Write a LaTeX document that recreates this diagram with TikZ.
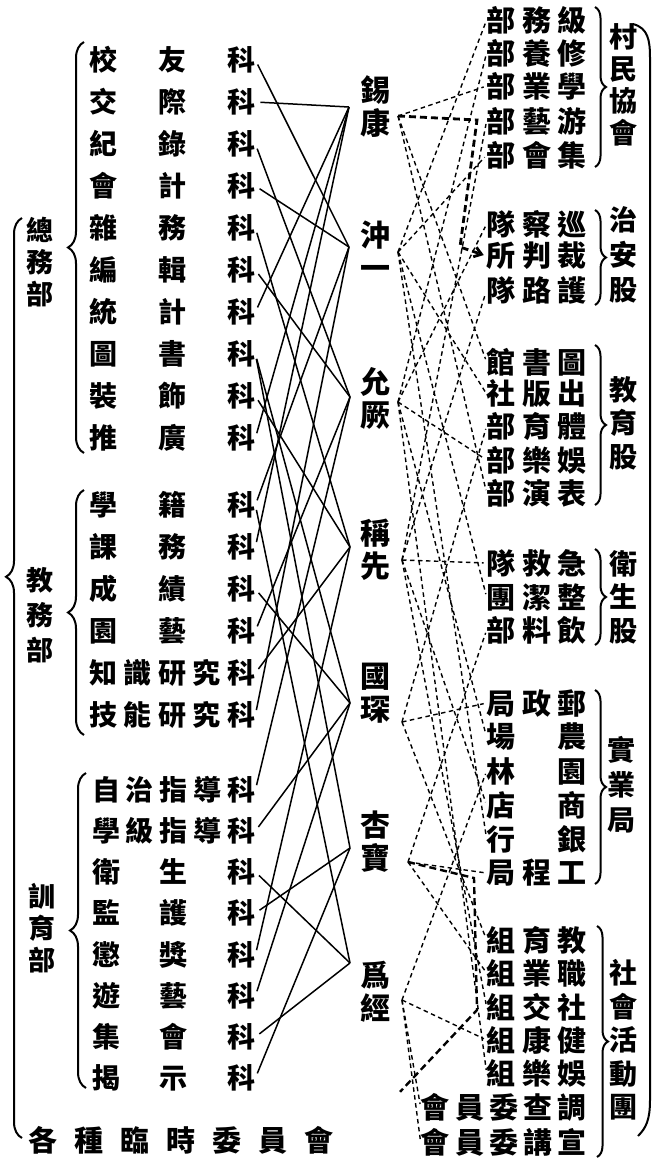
\documentclass[tikz,border=0pt]{standalone}
\usepackage{fontspec}
\newfontfamily\cjk{Noto Sans CJK TC}
\usetikzlibrary{decorations.pathreplacing,arrows.meta}
\newcommand\rowbox[2]{\hbox to #1{#2}}
\begin{document}
\begin{tikzpicture}[x=1pt,y=-1pt,
  lrow/.style={anchor=west,inner sep=0pt,font=\cjk\bfseries\fontsize{28}{28}\selectfont},
  rrow/.style={anchor=east,inner sep=0pt,font=\cjk\bfseries\fontsize{29}{29}\selectfont},
  vlab/.style={align=center,inner sep=0pt},
  pname/.style={align=center,inner sep=0pt,font=\cjk\bfseries\fontsize{30}{33}\selectfont},
  slink/.style={line width=1.5pt,shorten <=5pt},
  dlink/.style={line width=1.4pt,dash pattern=on 4.5pt off 3.5pt,shorten >=3pt},
  lbrace/.style={decorate,decoration={brace,amplitude=16pt},line width=2pt},
  rbrace/.style={decorate,decoration={brace,amplitude=11pt},line width=2pt},
]
\useasboundingbox (0,0) rectangle (655,1165);

% ---------- left: department rows ----------
\node[lrow] (L1)  at (89,60)   {\rowbox{166pt}{校\hfill 友\hfill 科}};
\node[lrow] (L2)  at (89,102)  {\rowbox{166pt}{交\hfill 際\hfill 科}};
\node[lrow] (L3)  at (89,144)  {\rowbox{166pt}{紀\hfill 錄\hfill 科}};
\node[lrow] (L4)  at (89,186)  {\rowbox{166pt}{會\hfill 計\hfill 科}};
\node[lrow] (L5)  at (89,228)  {\rowbox{166pt}{雜\hfill 務\hfill 科}};
\node[lrow] (L6)  at (89,270)  {\rowbox{166pt}{編\hfill 輯\hfill 科}};
\node[lrow] (L7)  at (89,312)  {\rowbox{166pt}{統\hfill 計\hfill 科}};
\node[lrow] (L8)  at (89,354)  {\rowbox{166pt}{圖\hfill 書\hfill 科}};
\node[lrow] (L9)  at (89,396)  {\rowbox{166pt}{裝\hfill 飾\hfill 科}};
\node[lrow] (L10) at (89,438)  {\rowbox{166pt}{推\hfill 廣\hfill 科}};
\node[lrow] (L11) at (89,505)  {\rowbox{166pt}{學\hfill 籍\hfill 科}};
\node[lrow] (L12) at (89,547)  {\rowbox{166pt}{課\hfill 務\hfill 科}};
\node[lrow] (L13) at (89,589)  {\rowbox{166pt}{成\hfill 績\hfill 科}};
\node[lrow] (L14) at (89,631)  {\rowbox{166pt}{園\hfill 藝\hfill 科}};
\node[lrow] (L15) at (89,673)  {\rowbox{166pt}{知\hfill 識\hfill 研\hfill 究\hfill 科}};
\node[lrow] (L16) at (89,715)  {\rowbox{166pt}{技\hfill 能\hfill 研\hfill 究\hfill 科}};
\node[lrow] (L17) at (92,790)  {\rowbox{163pt}{自\hfill 治\hfill 指\hfill 導\hfill 科}};
\node[lrow] (L18) at (92,831)  {\rowbox{163pt}{學\hfill 級\hfill 指\hfill 導\hfill 科}};
\node[lrow] (L19) at (92,872)  {\rowbox{163pt}{衛\hfill 生\hfill 科}};
\node[lrow] (L20) at (92,913)  {\rowbox{163pt}{監\hfill 護\hfill 科}};
\node[lrow] (L21) at (92,955)  {\rowbox{163pt}{懲\hfill 獎\hfill 科}};
\node[lrow] (L22) at (92,996)  {\rowbox{163pt}{遊\hfill 藝\hfill 科}};
\node[lrow] (L23) at (92,1037) {\rowbox{163pt}{集\hfill 會\hfill 科}};
\node[lrow] (L24) at (92,1078) {\rowbox{163pt}{揭\hfill 示\hfill 科}};

% ---------- left: department labels ----------
\node[vlab,font=\cjk\bfseries\fontsize{27}{32}\selectfont] (G1) at (40,262) {總\\務\\部};
\node[vlab,font=\cjk\bfseries\fontsize{27}{35}\selectfont] (G2) at (40,615) {教\\務\\部};
\node[vlab,font=\cjk\bfseries\fontsize{27}{32}\selectfont] (G3) at (42,928) {訓\\育\\部};
\node[lrow,font=\cjk\bfseries\fontsize{29}{29}\selectfont] (G4) at (28,1140) {\rowbox{305pt}{各\hfill 種\hfill 臨\hfill 時\hfill 委\hfill 員\hfill 會}};

% ---------- left braces ----------
\draw[lbrace] (84,453) -- (84,42);
\draw[lbrace] (84,735) -- (84,490);
\draw[lbrace] (86,1088) -- (86,773);
\draw[lbrace,decoration={aspect=0.61}] (22,1138) -- (22,218);

% ---------- middle: names ----------
\node[pname] (a) at (375,107) {錫\\康};
\node[pname] (b) at (375,250) {沖\\一};
\node[pname] (c) at (375,398) {允\\厥};
\node[pname] (d) at (375,550) {稱\\先};
\node[pname] (e) at (375,693) {國\\琛};
\node[pname] (f) at (375,842) {杏\\寶};
\node[pname] (g) at (375,992) {爲\\經};
\coordinate (a-in) at (349,107);  \coordinate (a-out) at (398,116);
\coordinate (b-in) at (349,247);  \coordinate (b-out) at (398,252);
\coordinate (c-in) at (350,397);  \coordinate (c-out) at (398,402);
\coordinate (d-in) at (350,547);  \coordinate (d-out) at (402,560);
\coordinate (e-in) at (350,703);  \coordinate (e-out) at (402,722);
\coordinate (f-in) at (350,848);  \coordinate (f-out) at (408,862);
\coordinate (g-in) at (350,963);  \coordinate (g-out) at (402,1000);

% ---------- right: rows ----------
\node[rrow] (R1)  at (587,20)   {\rowbox{100pt}{部\hfill 務\hfill 級}};
\node[rrow] (R2)  at (587,53)   {\rowbox{100pt}{部\hfill 養\hfill 修}};
\node[rrow] (R3)  at (587,86)   {\rowbox{100pt}{部\hfill 業\hfill 學}};
\node[rrow] (R4)  at (587,121)  {\rowbox{100pt}{部\hfill 藝\hfill 游}};
\node[rrow] (R5)  at (587,155)  {\rowbox{100pt}{部\hfill 會\hfill 集}};
\node[rrow] (R6)  at (587,224)  {\rowbox{100pt}{隊\hfill 察\hfill 巡}};
\node[rrow] (R7)  at (587,256)  {\rowbox{100pt}{所\hfill 判\hfill 裁}};
\node[rrow] (R8)  at (587,290)  {\rowbox{100pt}{隊\hfill 路\hfill 護}};
\node[rrow] (R9)  at (587,362)  {\rowbox{100pt}{館\hfill 書\hfill 圖}};
\node[rrow] (R10) at (587,394)  {\rowbox{100pt}{社\hfill 版\hfill 出}};
\node[rrow] (R11) at (587,426)  {\rowbox{100pt}{部\hfill 育\hfill 體}};
\node[rrow] (R12) at (587,460)  {\rowbox{100pt}{部\hfill 樂\hfill 娛}};
\node[rrow] (R13) at (587,493)  {\rowbox{100pt}{部\hfill 演\hfill 表}};
\node[rrow] (R14) at (587,563)  {\rowbox{100pt}{隊\hfill 救\hfill 急}};
\node[rrow] (R15) at (587,597)  {\rowbox{100pt}{團\hfill 潔\hfill 整}};
\node[rrow] (R16) at (587,630)  {\rowbox{100pt}{部\hfill 料\hfill 飲}};
\node[rrow] (R17) at (587,703)  {\rowbox{100pt}{局\hfill 政\hfill 郵}};
\node[rrow] (R18) at (587,737)  {\rowbox{100pt}{場\hfill 農}};
\node[rrow] (R19) at (587,771)  {\rowbox{100pt}{林\hfill 園}};
\node[rrow] (R20) at (587,805)  {\rowbox{100pt}{店\hfill 商}};
\node[rrow] (R21) at (587,839)  {\rowbox{100pt}{行\hfill 銀}};
\node[rrow] (R22) at (587,873)  {\rowbox{100pt}{局\hfill 程\hfill 工}};
\node[rrow] (R23) at (587,940)  {\rowbox{100pt}{組\hfill 育\hfill 教}};
\node[rrow] (R24) at (587,973)  {\rowbox{100pt}{組\hfill 業\hfill 職}};
\node[rrow] (R25) at (587,1007) {\rowbox{100pt}{組\hfill 交\hfill 社}};
\node[rrow] (R26) at (587,1040) {\rowbox{100pt}{組\hfill 康\hfill 健}};
\node[rrow] (R27) at (587,1073) {\rowbox{100pt}{組\hfill 樂\hfill 娛}};
\node[rrow] (R28) at (587,1107) {\rowbox{166pt}{會\hfill 員\hfill 委\hfill 查\hfill 調}};
\node[rrow] (R29) at (587,1142) {\rowbox{166pt}{會\hfill 員\hfill 委\hfill 講\hfill 宣}};

% ---------- right: group labels ----------
\node[vlab,font=\cjk\bfseries\fontsize{28}{32}\selectfont] (H1) at (623,85)   {村\\民\\協\\會};
\node[vlab,font=\cjk\bfseries\fontsize{28}{35}\selectfont] (H2) at (623,255)  {治\\安\\股};
\node[vlab,font=\cjk\bfseries\fontsize{28}{33.5}\selectfont] (H3) at (623,423) {教\\育\\股};
\node[vlab,font=\cjk\bfseries\fontsize{28}{33.5}\selectfont] (H4) at (623,597) {衛\\生\\股};
\node[vlab,font=\cjk\bfseries\fontsize{28}{35}\selectfont] (H5) at (621,785)  {實\\業\\局};
\node[vlab,font=\cjk\bfseries\fontsize{28}{33.5}\selectfont] (H6) at (623,1040) {社\\會\\活\\動\\團};

% ---------- right braces ----------
\draw[rbrace] (595,7) -- (595,167);
\draw[rbrace] (595,210) -- (595,305);
\draw[rbrace] (595,345) -- (595,505);
\draw[rbrace] (595,549) -- (595,645);
\draw[rbrace] (595,690) -- (595,884);
\draw[rbrace] (597,926) -- (597,1157);
\draw[line width=2pt] (633,24) .. controls (648,28) and (650,40) .. (650,58) -- (650,1100) .. controls (650,1120) and (646,1128) .. (638,1136);

% ---------- solid connectors: sections to persons ----------
\foreach \s/\t in {L1/b-in,L2/a-in,L3/c-in,L4/b-in,L5/d-in,L6/c-in,L7/a-in,L8/e-in,L8/f-in,L9/d-in,L10/a-in,
  L11/b-in,L11/g-in,L12/a-in,L13/e-in,L14/c-in,L15/d-in,L16/b-in,
  L17/c-in,L18/e-in,L19/g-in,L20/f-in,L21/d-in,L22/e-in,L23/g-in,L24/f-in}
  \draw[slink] (\s.east) -- (\t);

% ---------- dashed connectors: persons to village bodies ----------
\foreach \s/\t in {b-out/R1,c-out/R2,a-out/R3,d-out/R4,b-out/R5,c-out/R6,d-out/R8,a-out/R9,b-out/R10,
  e-out/R11,c-out/R12,a-out/R13,d-out/R14,b-out/R15,f-out/R16,e-out/R17,c-out/R18,g-out/R19,d-out/R20,
  b-out/R21,f-out/R22,e-out/R23,f-out/R24,d-out/R25,g-out/R26,c-out/R27,g-out/R28,g-out/R29}
  \draw[dlink] (\s) -- (\t.west);

% bold bent dashed connectors
\coordinate (k1) at (477,120);
\coordinate (k2) at (460,247);
\draw[dlink,line width=2.8pt,dash pattern=on 7pt off 4pt,-{Straight Barb[length=7pt,width=10pt]}] (a-out) -- (k1) -- (k2) -- (R7.west);
\coordinate (k3) at (474,878);
\coordinate (k4) at (477,1010);
\coordinate (k5) at (398,1094);
\draw[dlink,line width=2.4pt,dash pattern=on 7pt off 4pt] (f-out) -- (k3) -- (k4) -- (k5);
\end{tikzpicture}
\end{document}
